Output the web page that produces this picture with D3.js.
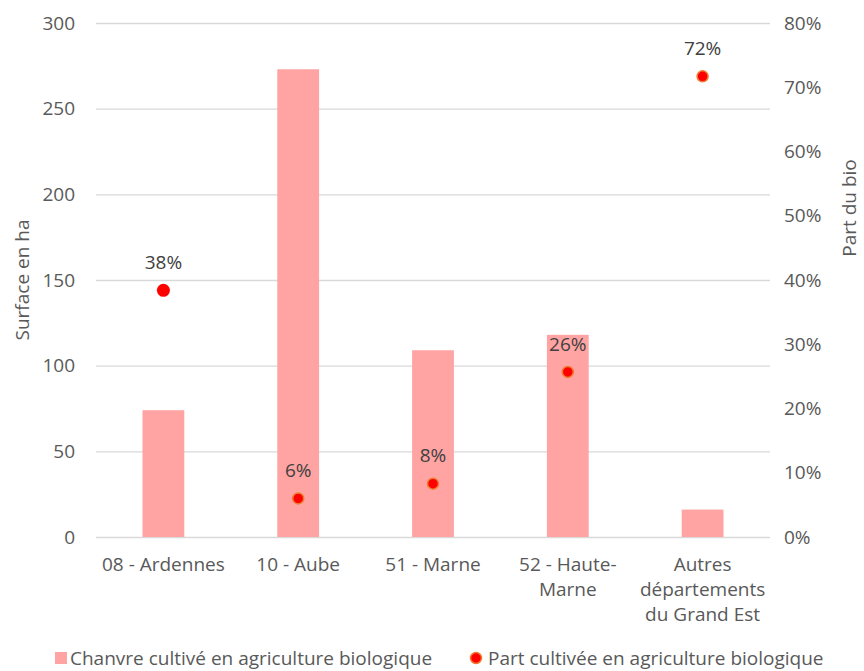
<!DOCTYPE html>
<html>
<head>
<meta charset="utf-8">
<script src="https://cdn.jsdelivr.net/npm/d3@7"></script>
<style>
  body { margin: 0; background: #fff; }
  text { font-family: "Open Sans", "Noto Sans", sans-serif; fill: #595959; }
</style>
</head>
<body>
<svg id="chart"></svg>
<script>
        // 数据
        const categories = ["08 - Ardennes", "10 - Aube", "51 - Marne", "52 - Haute-Marne", "Autres départements du Grand Est"];
        const categoryLines = [["08 - Ardennes"], ["10 - Aube"], ["51 - Marne"], ["52 - Haute-", "Marne"], ["Autres", "départements", "du Grand Est"]];
        const surfaceValues = [74, 273, 109, 118, 16];
        const shareValues = [0.384, 0.06, 0.083, 0.257, 0.717];
        const leftTicks = [0, 50, 100, 150, 200, 250, 300];
        const rightTicks = [0, 0.1, 0.2, 0.3, 0.4, 0.5, 0.6, 0.7, 0.8];

        const width = 864, height = 671;
        const plotLeft = 96, plotRight = 770, plotTop = 23, plotBottom = 537;
        const fs = "19px";

        const svg = d3.select("#chart")
            .attr("width", width)
            .attr("height", height);

        // 比例尺
        const x = d3.scaleBand()
            .domain(categories)
            .range([plotLeft, plotRight]);

        const yLeft = d3.scaleLinear()
            .domain([0, 300])
            .range([plotBottom, plotTop]);

        const yRight = d3.scaleLinear()
            .domain([0, 0.8])
            .range([plotBottom, plotTop]);

        const barWidth = x.bandwidth() * 0.31;
        const cx = d => x(d) + x.bandwidth() / 2;

        // 网格线
        svg.append("g")
            .selectAll("line")
            .data(leftTicks)
            .enter()
            .append("line")
            .attr("x1", plotLeft)
            .attr("x2", plotRight)
            .attr("y1", d => yLeft(d) + 0.5)
            .attr("y2", d => yLeft(d) + 0.5)
            .attr("stroke", "#d9d9d9")
            .attr("stroke-width", 1.3);

        // 左轴标签
        svg.append("g")
            .selectAll("text")
            .data(leftTicks)
            .enter()
            .append("text")
            .attr("x", 75)
            .attr("y", d => yLeft(d))
            .attr("dy", "0.35em")
            .attr("text-anchor", "end")
            .style("font-size", fs)
            .text(d => d);

        // 右轴标签
        svg.append("g")
            .selectAll("text")
            .data(rightTicks)
            .enter()
            .append("text")
            .attr("x", 784)
            .attr("y", d => yRight(d))
            .attr("dy", "0.35em")
            .attr("text-anchor", "start")
            .style("font-size", fs)
            .text(d => d3.format(".0%")(d));

        // 柱子
        svg.append("g")
            .selectAll("rect")
            .data(categories)
            .enter()
            .append("rect")
            .attr("x", d => cx(d) - barWidth / 2)
            .attr("width", barWidth)
            .attr("y", (d, i) => yLeft(surfaceValues[i]))
            .attr("height", (d, i) => yLeft(0) - yLeft(surfaceValues[i]))
            .attr("fill", "#ffa3a3");

        // 比例点
        svg.append("g")
            .selectAll("circle")
            .data(categories)
            .enter()
            .append("circle")
            .attr("cx", d => cx(d))
            .attr("cy", (d, i) => yRight(shareValues[i]))
            .attr("r", (d, i) => i === 0 ? 6.5 : 5.5)
            .attr("fill", "#ff0000")
            .attr("stroke", (d, i) => i === 0 ? "none" : "#ed7d31")
            .attr("stroke-width", 1.5);

        // 比例标签
        svg.append("g")
            .selectAll("text")
            .data(categories)
            .enter()
            .append("text")
            .attr("x", d => cx(d))
            .attr("y", (d, i) => yRight(shareValues[i]) - 28)
            .attr("dy", "0.35em")
            .attr("text-anchor", "middle")
            .style("font-size", fs)
            .style("fill", "#404040")
            .text((d, i) => d3.format(".0%")(shareValues[i]));

        // 类别标签
        const catGroup = svg.append("g");
        categories.forEach((c, i) => {
            const t = catGroup.append("text")
                .attr("x", cx(c))
                .attr("y", 564)
                .attr("text-anchor", "middle")
                .style("font-size", fs);
            categoryLines[i].forEach((line, j) => {
                t.append("tspan")
                    .attr("x", cx(c))
                    .attr("dy", j === 0 ? "0.35em" : "25px")
                    .text(line);
            });
        });

        // 轴标题
        svg.append("text")
            .attr("transform", "translate(22,280) rotate(-90)")
            .attr("text-anchor", "middle")
            .attr("dy", "0.35em")
            .style("font-size", fs)
            .text("Surface en ha");

        svg.append("text")
            .attr("transform", "translate(849,208) rotate(-90)")
            .attr("text-anchor", "middle")
            .attr("dy", "0.35em")
            .style("font-size", fs)
            .text("Part du bio");

        // 图例
        const legend = svg.append("g");
        const legendY = 658;
        legend.append("rect")
            .attr("x", 55)
            .attr("y", legendY - 6)
            .attr("width", 12)
            .attr("height", 12)
            .attr("fill", "#ffa3a3");
        legend.append("text")
            .attr("x", 70)
            .attr("y", legendY)
            .attr("dy", "0.35em")
            .style("font-size", fs)
            .text("Chanvre cultivé en agriculture biologique");
        legend.append("circle")
            .attr("cx", 476)
            .attr("cy", legendY)
            .attr("r", 5.5)
            .attr("fill", "#ff0000")
            .attr("stroke", "#ed7d31")
            .attr("stroke-width", 1.5);
        legend.append("text")
            .attr("x", 488)
            .attr("y", legendY)
            .attr("dy", "0.35em")
            .style("font-size", fs)
            .text("Part cultivée en agriculture biologique");
</script>
</body>
</html>
